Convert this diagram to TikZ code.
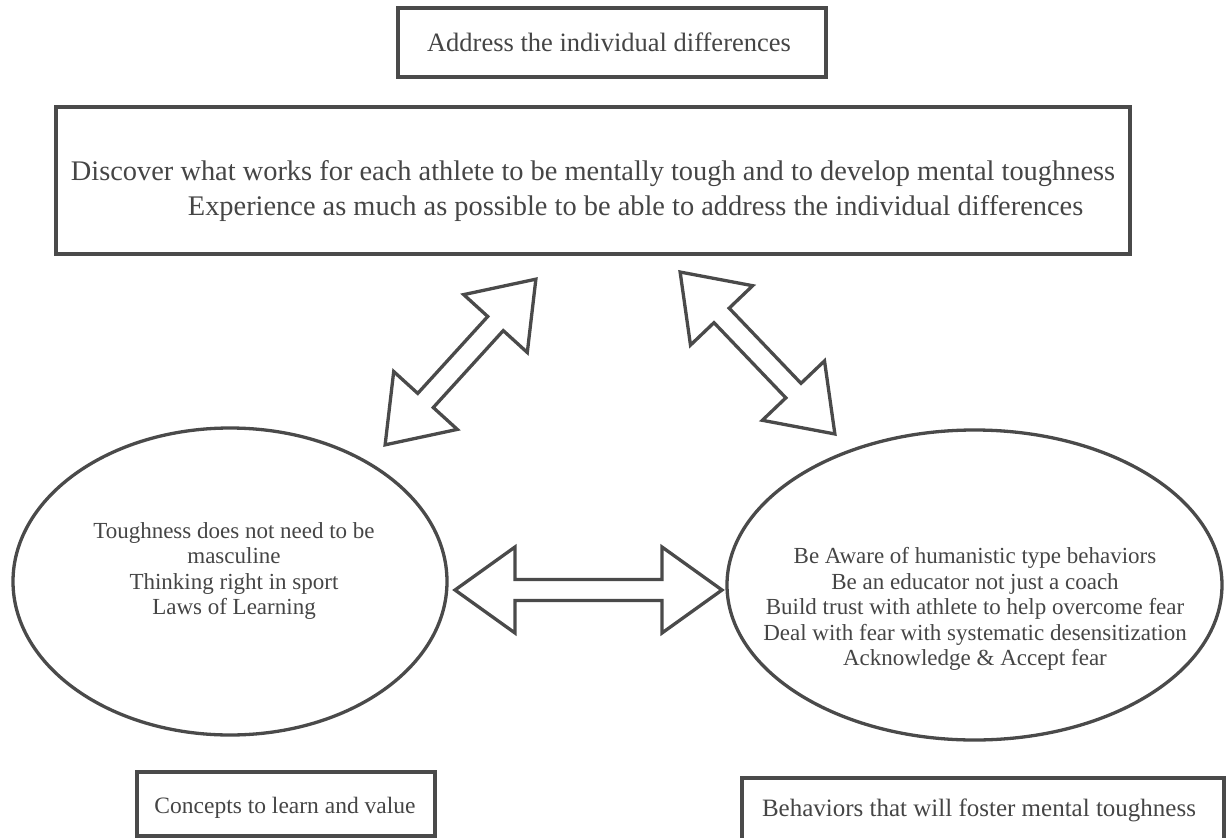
\documentclass[tikz,border=0pt]{standalone}
\usepackage{fontspec}
\setmainfont{Liberation Serif}
\usetikzlibrary{positioning,shapes.geometric}

\definecolor{framegray}{HTML}{4A4A4A}
\definecolor{inkgray}{HTML}{454545}

\tikzset{
    framebox/.style={draw=framegray, line width=4pt, rectangle, inner sep=0pt},
    oval/.style={draw=framegray, line width=3.3pt, ellipse, inner sep=0pt},
    boxtext/.style={text=inkgray, font=\fontsize{26.5}{34}\selectfont, align=center},
    ovaltext/.style={text=inkgray, font=\fontsize{23}{25.5}\selectfont, align=center},
    arrowline/.style={draw=framegray, line width=3.3pt, line join=miter, fill=white},
    fatarrow/.pic={
        \draw[arrowline] (-\halflen,0) -- (-\halflen+60,43) -- (-\halflen+60,10.5)
            -- (\halflen-60,10.5) -- (\halflen-60,43) -- (\halflen,0)
            -- (\halflen-60,-43) -- (\halflen-60,-10.5) -- (-\halflen+60,-10.5)
            -- (-\halflen+60,-43) -- cycle;
    }
}

\begin{document}
\begin{tikzpicture}[x=1pt, y=-1pt]
    \useasboundingbox (0,0) rectangle (1227,838);

    % Boxes
    \node[framebox, minimum width=428, minimum height=69] (address) at (612,42.5) {};
    \node[boxtext] (addresstext) at (609,42.5) {Address the individual differences};

    \node[framebox, minimum width=1074, minimum height=147] (discover) at (593,180.5) {};
    \node[boxtext, font=\fontsize{28.4}{35}\selectfont, align=left] (discovertext) at (593,191)
        {Discover what works for each athlete to be mentally tough and to develop mental toughness\\
         \hspace*{117pt}Experience as much as possible to be able to address the individual differences};

    % Ovals
    \node[oval, minimum width=434, minimum height=307] (concepts) at (230,581.5) {};
    \node[ovaltext] (conceptstext) at (234,571)
        {Toughness does not need to be\\ masculine\\ Thinking right in sport\\ Laws of Learning};

    \node[oval, minimum width=495, minimum height=310] (behaviors) at (974.5,585) {};
    \node[ovaltext] (behaviorstext) at (975,609)
        {Be Aware of humanistic type behaviors\\ Be an educator not just a coach\\
         Build trust with athlete to help overcome fear\\
         Deal with fear with systematic desensitization\\ Acknowledge \& Accept fear};

    % Double arrows
    \def\halflen{112}
    \pic[rotate=47.7] at (460.5,362) {fatarrow};
    \pic[rotate=-46.3] at (757.5,353) {fatarrow};
    \def\halflen{133.5}
    \pic at (588.5,590) {fatarrow};

    % Captions
    \node[framebox, minimum width=298, minimum height=64] (conceptsbox) at (286,804) {};
    \node[boxtext, font=\fontsize{23.5}{30}\selectfont] (conceptslabel) at (285,808) {Concepts to learn and value};

    \node[framebox, minimum width=482, minimum height=62] (behaviorsbox) at (983,809) {};
    \node[boxtext, font=\fontsize{25}{30}\selectfont] (behaviorslabel) at (979,810) {Behaviors that will foster mental toughness};
\end{tikzpicture}
\end{document}
